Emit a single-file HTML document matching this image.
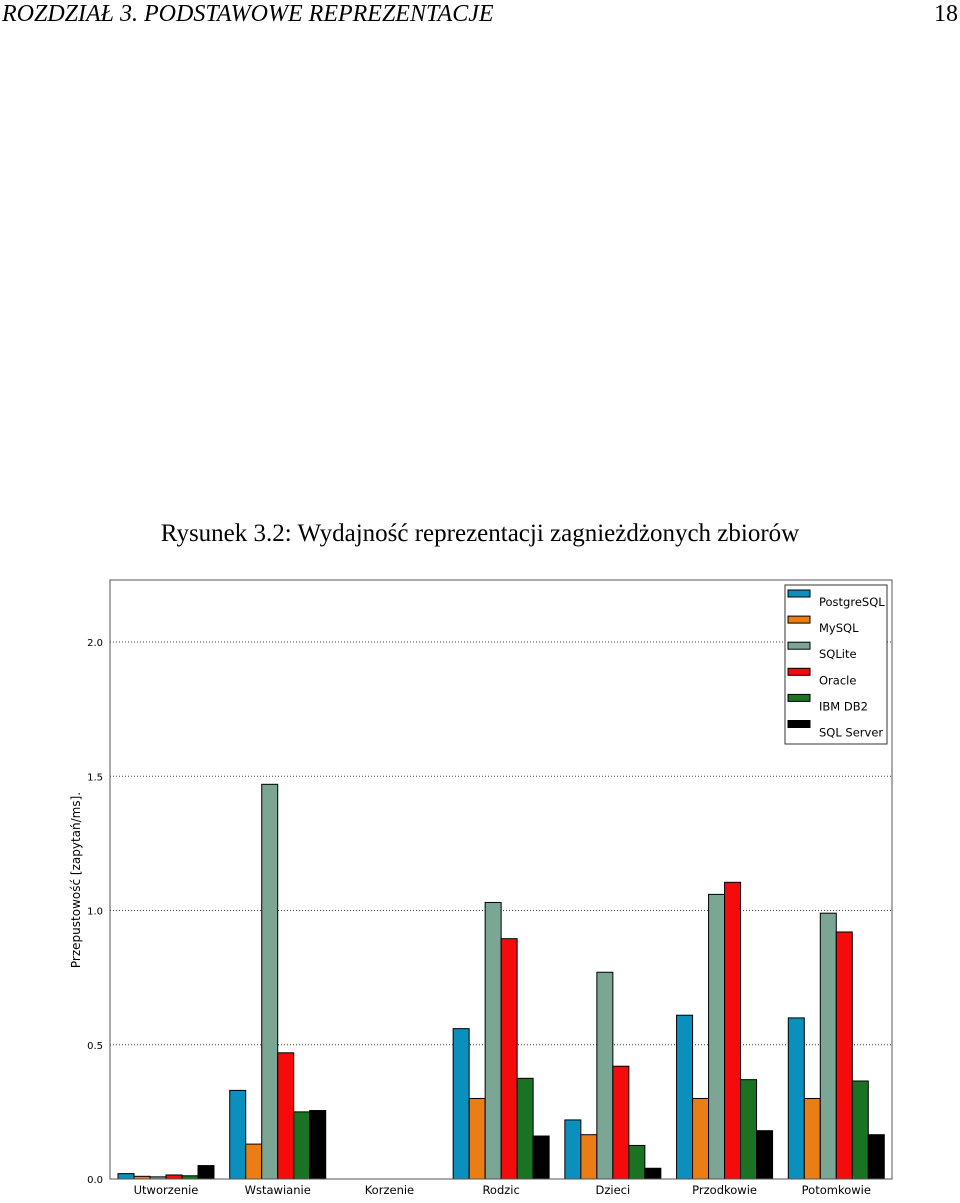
<!DOCTYPE html>
<html><head><meta charset="utf-8"><style>
body{margin:0;background:#fff;width:960px;height:1198px;overflow:hidden}
svg text{font-family:"DejaVu Sans","Liberation Sans",sans-serif}
</style></head><body>
<svg width="960" height="1198">
<text x="2" y="21" font-family="Liberation Serif" font-style="italic" font-size="24" style="font-family:'Liberation Serif',serif">ROZDZIAŁ 3.  PODSTAWOWE REPREZENTACJE</text>
<text x="958" y="21" text-anchor="end" font-size="24" style="font-family:'Liberation Serif',serif">18</text>
<text x="480" y="541" text-anchor="middle" font-size="25" style="font-family:'Liberation Serif',serif">Rysunek 3.2: Wydajność reprezentacji zagnieżdżonych zbiorów</text>
<g id="chart"></g>
</svg>
<script>
const categories=["Utworzenie","Wstawianie","Korzenie","Rodzic","Dzieci","Przodkowie","Potomkowie"];
const seriesNames=["PostgreSQL","MySQL","SQLite","Oracle","IBM DB2","SQL Server"];
const seriesColors=["#0b8fbd","#ea7e14","#7ba594","#f50b0b","#1a7223","#000000"];
const postgres=[0.02,0.33,0,0.56,0.22,0.61,0.60];
const mysql=[0.01,0.13,0,0.30,0.165,0.30,0.30];
const sqlite=[0.008,1.47,0,1.03,0.77,1.06,0.99];
const oracle=[0.015,0.47,0,0.895,0.42,1.105,0.92];
const db2=[0.012,0.25,0,0.375,0.125,0.37,0.365];
const sqlserver=[0.05,0.255,0,0.16,0.04,0.18,0.165];
const yTicks=[0,0.5,1.0,1.5,2.0];
const yTickLabels=["0.0","0.5","1.0","1.5","2.0"];
const series=[postgres,mysql,sqlite,oracle,db2,sqlserver];
const NS="http://www.w3.org/2000/svg";
const g=document.getElementById('chart');
const L=110,R=892,T=580,B=1179,yMax=(B-T)/268.5;
const y=v=>B-v/yMax*(B-T);
const pitch=(R-L)/categories.length, bw=16;
const x=(ci,si)=>L+8+ci*pitch+si*bw;
function mk(t,a){const e=document.createElementNS(NS,t);for(const k in a)e.setAttribute(k,a[k]);g.appendChild(e);return e;}
yTicks.forEach((t,i)=>{
 if(t>0){const l=mk('line',{x1:L,x2:R,y1:y(t),y2:y(t),stroke:'#444','stroke-width':1,'stroke-dasharray':'1,2'});
 
 }
 const tx=mk('text',{x:L-7,y:y(t)+4,'text-anchor':'end','font-size':10});
 tx.textContent=yTickLabels[i];
 
 
});
series.forEach((s,si)=>s.forEach((v,ci)=>{
 if(v<=0)return;
 const r=mk('rect',{x:x(ci,si),y:y(v),width:bw,height:B-y(v),fill:seriesColors[si],stroke:'#000','stroke-width':1});
 
 
}));
const fr=mk('rect',{x:L,y:T,width:R-L,height:B-T,fill:'none',stroke:'#555','stroke-width':1});


categories.forEach((c,ci)=>{
 const t=mk('text',{x:L+8+ci*pitch+48,y:B+15,'text-anchor':'middle','font-size':11.5});
 t.textContent=c;
 
 
});
const yt=mk('text',{transform:'translate(80,880) rotate(-90)','text-anchor':'middle','font-size':12});
yt.textContent='Przepustowość [zapytań/ms].';


const lg=mk('rect',{x:785,y:585,width:102,height:159,fill:'#fff',stroke:'#333','stroke-width':1});


seriesNames.forEach((n,i)=>{
 const yy=590+i*26.1;
 const sw=mk('rect',{x:788,y:yy,width:22,height:7,fill:seriesColors[i],stroke:'#000','stroke-width':1});
 
 
 const t=mk('text',{x:819,y:yy+16,'font-size':11.5});
 t.textContent=n;
 
 
});
</script>
</body></html>
